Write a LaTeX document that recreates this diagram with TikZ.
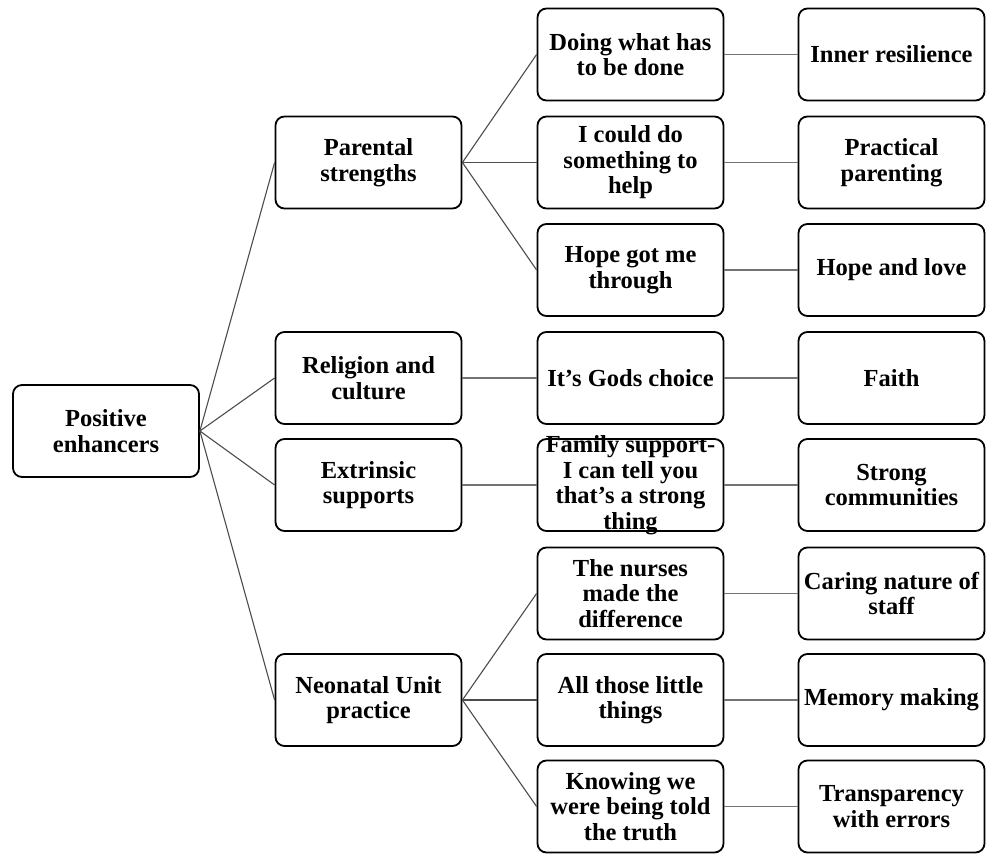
\documentclass[tikz,border=0pt]{standalone}
\usepackage{fontspec}
\setmainfont{Liberation Serif}
\begin{document}
\begin{tikzpicture}[x=1pt,y=-1pt,
  box/.style={draw=black, line width=1.8pt, rounded corners=9pt, minimum width=186pt, minimum height=92pt, inner sep=0pt, align=center, font=\fontsize{24.5}{25.5}\selectfont\bfseries, text=black},
  lbl/.style={inner sep=0pt, align=center, font=\fontsize{24.5}{25.5}\selectfont\bfseries, text=black},
  conn/.style={draw=black!70, line width=1.1pt},
  hconn/.style={draw=black!55, line width=1.4pt}]
\useasboundingbox (0,0) rectangle (986,854);
% column x centres: 106, 368.5, 630.5, 891.5
\node[box] (pe) at (106,431) {Positive\\enhancers};
\node[box] (ps) at (368.5,162.5) {Parental\\strengths};
\node[box] (rc) at (368.5,378) {Religion and\\culture};
\node[box] (es) at (368.5,485) {Extrinsic\\supports};
\node[box] (nu) at (368.5,700) {Neonatal Unit\\practice};
% column 3
\node[box] (c1) at (630.5,54.5) {Doing what has\\to be done};
\node[box] (c2) at (630.5,162.5) {I could do\\something to\\help};
\node[box] (c3) at (630.5,270) {Hope got me\\through};
\node[box] (c4) at (630.5,378) {It’s Gods choice};
\node[box] (c5) at (630.5,485) {};
\node[lbl] (c5t) at (c5.center) {Family support-\\I can tell you\\that’s a strong\\thing};
\node[box] (c6) at (630.5,593.5) {The nurses\\made the\\difference};
\node[box] (c7) at (630.5,700) {All those little\\things};
\node[box] (c8) at (630.5,806.5) {Knowing we\\were being told\\the truth};
% column 4
\node[box] (d1) at (891.5,54.5) {Inner resilience};
\node[box] (d2) at (891.5,162.5) {Practical\\parenting};
\node[box] (d3) at (891.5,270) {Hope and love};
\node[box] (d4) at (891.5,378) {Faith};
\node[box] (d5) at (891.5,485) {Strong\\communities};
\node[box] (d6) at (891.5,593.5) {Caring nature of\\staff};
\node[box] (d7) at (891.5,700) {Memory making};
\node[box] (d8) at (891.5,806.5) {Transparency\\with errors};
% connectors level 1
\foreach \t in {ps,rc,es,nu} \draw[conn] (pe.east) -- (\t.west);
% level 2
\foreach \t in {c1,c2,c3} \draw[conn] (ps.east) -- (\t.west);
\draw[hconn] (rc.east) -- (c4.west);
\draw[hconn] (es.east) -- (c5.west);
\foreach \t in {c6,c7,c8} \draw[conn] (nu.east) -- (\t.west);
% level 3
\foreach \i in {1,...,8} \draw[hconn] (c\i.east) -- (d\i.west);
\end{tikzpicture}
\end{document}
